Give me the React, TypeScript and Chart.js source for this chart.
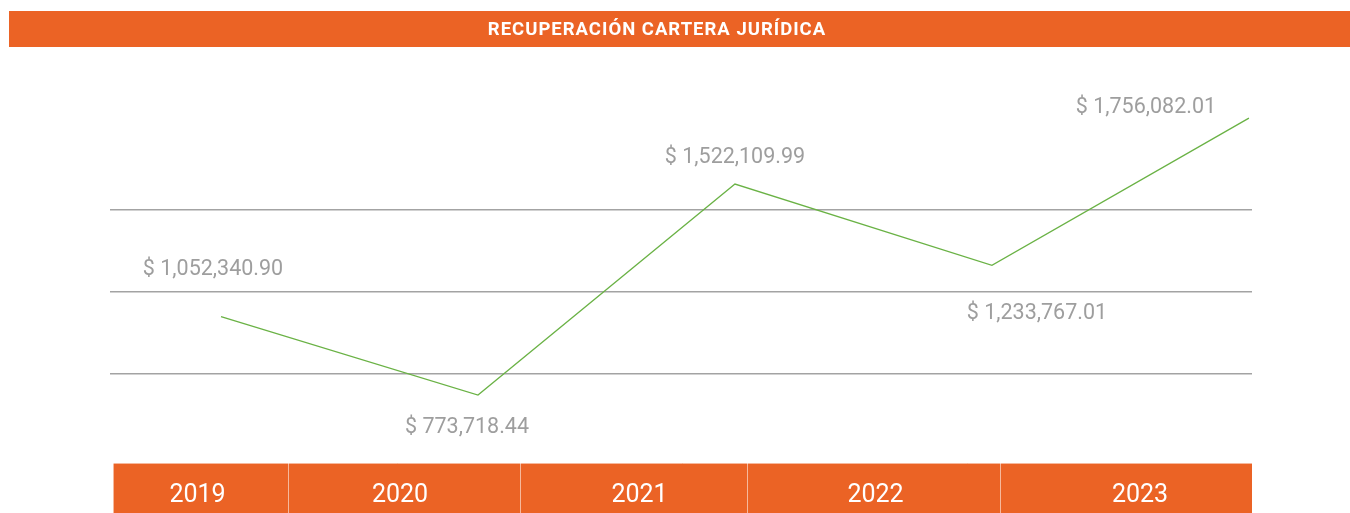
import React, { useEffect, useRef } from "react";
import { Chart, registerables } from "chart.js";

Chart.register(...registerables);

// ---- data ----
const title = "RECUPERACIÓN CARTERA JURÍDICA";
const years = ["2019", "2020", "2021", "2022", "2023"];
const values = [1052340.9, 773718.44, 1522109.99, 1233767.01, 1756082.01];
const gridValues = [850000, 1140000, 1430000];

// ---- layout (not data) ----
const labelOffsets: [number, number][] = [
  [-8, -47],
  [-11, 33],
  [0, -26],
  [45, 48],
  [-103, -10],
];
const cellEdges = [113, 288, 520, 747, 1000, 1252];
const cellLabelShift = [-3, -4, 6, 2, 14];

const ORANGE = "#EB6325";
const FONT = "Roboto, 'Noto Sans', sans-serif";

const fmt = (v: number) =>
  "$ " + v.toLocaleString("en-US", { minimumFractionDigits: 2, maximumFractionDigits: 2 });

const decorPlugin = {
  id: "decor",
  beforeDraw(chart: any) {
    const ctx = chart.ctx;
    ctx.save();
    ctx.fillStyle = "#ffffff";
    ctx.fillRect(0, 0, chart.width, chart.height);
    // title bar
    ctx.fillStyle = ORANGE;
    ctx.fillRect(9, 11, 1341, 36);
    ctx.fillStyle = "#ffffff";
    ctx.font = `bold 18.5px ${FONT}`;
    try {
      (ctx as any).letterSpacing = "1px";
    } catch (e) {}
    ctx.textAlign = "center";
    ctx.textBaseline = "middle";
    ctx.fillText(title, 657, 30.5);
    try {
      (ctx as any).letterSpacing = "0px";
    } catch (e) {}
    // bottom year cells
    const top = 463;
    const bottom = chart.height;
    for (let i = 0; i < years.length; i++) {
      const x0 = cellEdges[i];
      const x1 = cellEdges[i + 1];
      ctx.fillStyle = ORANGE;
      ctx.fillRect(x0, top, x1 - x0, bottom - top);
    }
    ctx.strokeStyle = "rgba(255,255,255,0.55)";
    ctx.lineWidth = 1;
    ctx.beginPath();
    ctx.moveTo(cellEdges[0], top + 0.5);
    ctx.lineTo(cellEdges[cellEdges.length - 1], top + 0.5);
    for (let i = 0; i < cellEdges.length - 1; i++) {
      ctx.moveTo(cellEdges[i] + 0.5, top);
      ctx.lineTo(cellEdges[i] + 0.5, bottom);
    }
    ctx.stroke();
    ctx.fillStyle = "#ffffff";
    ctx.font = `400 25px ${FONT}`;
    for (let i = 0; i < years.length; i++) {
      const cx = (cellEdges[i] + cellEdges[i + 1]) / 2 + cellLabelShift[i];
      ctx.fillText(years[i], cx, 495.5);
    }
    ctx.restore();
  },
  afterDatasetsDraw(chart: any) {
    const ctx = chart.ctx;
    const meta = chart.getDatasetMeta(0);
    ctx.save();
    ctx.fillStyle = "#9e9e9e";
    ctx.font = `400 21.5px ${FONT}`;
    ctx.textAlign = "center";
    ctx.textBaseline = "middle";
    meta.data.forEach((pt: any, i: number) => {
      const [dx, dy] = labelOffsets[i];
      ctx.fillText(fmt(values[i]), pt.x + dx, pt.y + dy);
    });
    ctx.restore();
  },
};

export default function App() {
  const ref = useRef<HTMLCanvasElement | null>(null);
  useEffect(() => {
    if (!ref.current) return;
    const chart = new Chart(ref.current, {
      type: "line",
      data: {
        datasets: [
          {
            data: values.map((v, i) => ({ x: i, y: v })),
            borderColor: "#6ab245",
            borderWidth: 1.3,
            pointRadius: 0,
            tension: 0,
            fill: false,
            clip: false as any,
          },
        ],
      },
      options: {
        responsive: false,
        animation: false,
        devicePixelRatio: 1,
        layout: { padding: { left: 110, right: 98, top: 60, bottom: 63 } },
        plugins: {
          legend: { display: false },
          tooltip: { enabled: false },
          title: { display: false },
        },
        scales: {
          x: { type: "linear", display: false, min: -0.432, max: 4.012 },
          y: {
            type: "linear",
            min: 579000,
            max: 1962000,
            border: { display: false },
            ticks: { display: false },
            grid: { drawTicks: false, color: "#a3a3a3", lineWidth: 1.5 },
            afterBuildTicks: (s: any) => {
              s.ticks = gridValues.map((v) => ({ value: v }));
            },
          },
        },
      },
      plugins: [decorPlugin],
    });
    return () => chart.destroy();
  }, []);
  return (
    <div style={{ position: "fixed", left: 0, top: 0, width: 1350, height: 513 }}>
      <canvas ref={ref} width={1350} height={513} style={{ width: 1350, height: 513, display: "block" }} />
    </div>
  );
}
